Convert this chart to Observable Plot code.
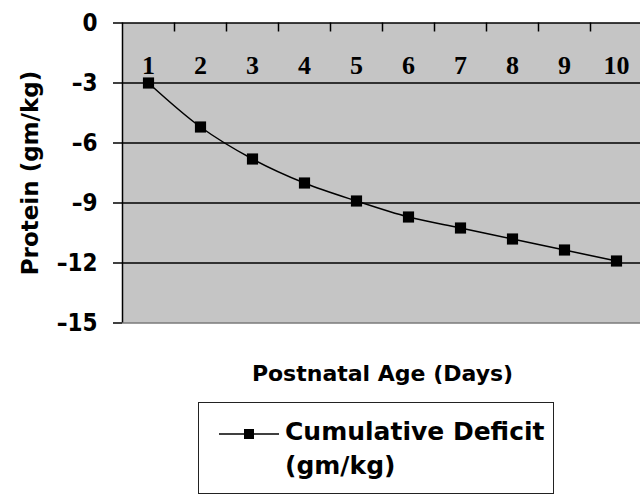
<!DOCTYPE html>
<html>
<head>
<meta charset="utf-8">
<script src="https://cdn.jsdelivr.net/npm/d3@7"></script>
<script src="https://cdn.jsdelivr.net/npm/@observablehq/plot@0.6"></script>
<style>
  html, body { margin: 0; padding: 0; background: #fff; overflow: hidden; }
  #wrap { position: relative; width: 640px; height: 497px; }
  #legend { position: absolute; left: 198px; top: 402px; width: 356px; height: 92px;
            border: 1.5px solid #222; box-sizing: border-box; background: #fff; }
  #legend svg { position: absolute; left: 20px; top: 24px; }
  #legend .txt { position: absolute; left: 86px; top: 12px; font-family: "DejaVu Sans", sans-serif;
                 font-weight: bold; font-size: 25px; line-height: 34px; color: #000; }
</style>
</head>
<body>
<div id="wrap"></div>
<script>
// ---- data ----
const days = [1, 2, 3, 4, 5, 6, 7, 8, 9, 10];
const deficit = [-3.0, -5.2, -6.8, -8.0, -8.9, -9.7, -10.25, -10.8, -11.35, -11.9];
const yTicks = [0, -3, -6, -9, -12, -15];
const gridValues = [-3, -6, -9, -12];
const xTitle = "Postnatal Age (Days)";
const yTitle = "Protein (gm/kg)";
const seriesName = ["Cumulative Deficit", "(gm/kg)"];

const data = days.map((d, i) => ({day: d, value: deficit[i]}));
const xDomain = [days[0] - 0.5, days[days.length - 1] + 0.5];
const yDomain = [-15, 0];
const boundaries = days.map(d => d + 0.5).filter(b => b < xDomain[1]);

const chart = Plot.plot({
  width: 640,
  height: 400,
  marginLeft: 122,
  marginRight: -2,
  marginTop: 22.5,
  marginBottom: 77.5,
  x: {type: "linear", domain: xDomain, axis: null},
  y: {type: "linear", domain: yDomain, axis: null},
  style: {background: "#fff", color: "#000"},
  marks: [
    Plot.frame({fill: "#c5c5c5", stroke: null}),
    Plot.ruleY(gridValues, {stroke: "#000", strokeWidth: 1.7}),
    Plot.ruleY([yDomain[0]], {stroke: "#7a7a7a", strokeWidth: 1.5}),
    Plot.ruleY([yDomain[1]], {stroke: "#000", strokeWidth: 1.5}),
    Plot.ruleX([xDomain[0]], {stroke: "#000", strokeWidth: 1.5}),
    Plot.ruleX(boundaries, {x: d => d, y1: yDomain[1], y2: yDomain[1] - 0.45, stroke: "#000", strokeWidth: 1.5}),
    Plot.axisY({
      ticks: yTicks, tickSize: 9, tickPadding: 16,
      tickFormat: d => d === 0 ? "0" : "\u2013" + Math.abs(d),
      fontFamily: "DejaVu Sans Condensed, DejaVu Sans, sans-serif",
      fontWeight: "bold", fontSize: 24, strokeWidth: 1.5, label: null
    }),
    Plot.text(days, {
      x: d => d, frameAnchor: "top", dy: 51, lineAnchor: "bottom",
      text: d => String(d),
      fontFamily: "Liberation Serif, Times New Roman, serif", fontWeight: "bold", fontSize: 26, fill: "#000"
    }),
    Plot.line(data, {x: "day", y: "value", curve: "catmull-rom", stroke: "#000", strokeWidth: 1.5}),
    Plot.dot(data, {x: "day", y: "value", symbol: "square", r: 6.3, fill: "#000", stroke: null}),
    Plot.text([xTitle], {
      frameAnchor: "bottom", dy: 57.5, lineAnchor: "bottom", text: d => d,
      fontFamily: "DejaVu Sans, sans-serif", fontWeight: "bold", fontSize: 22, fill: "#000"
    }),
    Plot.text([yTitle], {
      frameAnchor: "left", dx: -92, rotate: -90, textAnchor: "middle", text: d => d,
      fontFamily: "DejaVu Sans, sans-serif", fontWeight: "bold", fontSize: 23, fill: "#000"
    })
  ]
});

const wrap = document.getElementById("wrap");
wrap.appendChild(chart);

// legend (HTML below the plot)
const legend = document.createElement("div");
legend.id = "legend";
legend.innerHTML =
  '<svg width="62" height="14"><line x1="0" y1="7" x2="60" y2="7" stroke="#000" stroke-width="1.5"/>' +
  '<rect x="25" y="2" width="10" height="10" fill="#000"/></svg>' +
  '<div class="txt">' + seriesName.join("<br>") + '</div>';
wrap.appendChild(legend);
</script>
</body>
</html>
